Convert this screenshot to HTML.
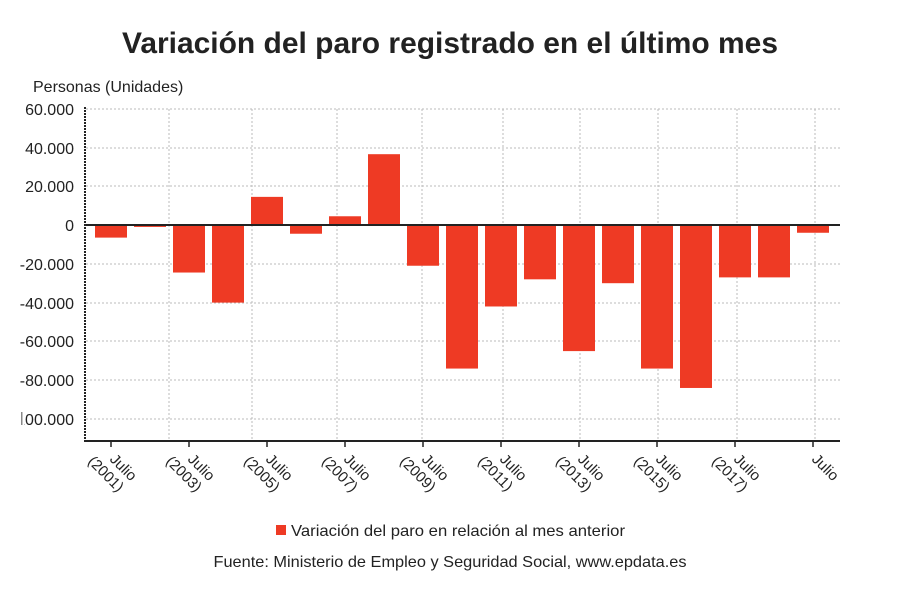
<!DOCTYPE html><html><head><meta charset="utf-8"><style>
body{margin:0;background:#fff;}
svg text{font-family:"Liberation Sans","DejaVu Sans",sans-serif;fill:#222;}
</style></head><body>
<svg width="900" height="607" xmlns="http://www.w3.org/2000/svg">
<text x="450" y="53" text-anchor="middle" font-size="30" font-weight="bold" fill="#111" textLength="656" lengthAdjust="spacingAndGlyphs">Variación del paro registrado en el último mes</text>
<text x="33" y="92" font-size="16" fill="#333">Personas (Unidades)</text>
<g stroke="#bbb" stroke-dasharray="2,2" stroke-width="1">
<line x1="86" x2="840" y1="109" y2="109"/><line x1="86" x2="840" y1="148" y2="148"/><line x1="86" x2="840" y1="186" y2="186"/>
<line x1="86" x2="840" y1="264" y2="264"/><line x1="86" x2="840" y1="303" y2="303"/><line x1="86" x2="840" y1="341" y2="341"/><line x1="86" x2="840" y1="380" y2="380"/><line x1="86" x2="840" y1="419" y2="419"/>
<line x1="169" x2="169" y1="109" y2="441"/><line x1="252" x2="252" y1="109" y2="441"/><line x1="337" x2="337" y1="109" y2="441"/><line x1="422" x2="422" y1="109" y2="441"/><line x1="503" x2="503" y1="109" y2="441"/><line x1="580" x2="580" y1="109" y2="441"/><line x1="658" x2="658" y1="109" y2="441"/><line x1="737" x2="737" y1="109" y2="441"/><line x1="815" x2="815" y1="109" y2="441"/>
</g>
<g font-size="16" text-anchor="end" fill="#333">
<text x="74" y="115">60.000</text><text x="74" y="154">40.000</text><text x="74" y="192">20.000</text><text x="74" y="231">0</text>
<text x="74" y="270">-20.000</text><text x="74" y="309">-40.000</text><text x="74" y="347">-60.000</text><text x="74" y="386">-80.000</text><text x="74" y="425">-100.000</text>
</g>
<rect x="0" y="405" width="24" height="25" fill="#fff"/>
<rect x="21" y="412" width="1.5" height="13" fill="#888"/>
<g fill="#ee3a24" id="bars"></g>
<line x1="85" x2="840" y1="225" y2="225" stroke="#222" stroke-width="2"/>
<line x1="85" x2="85" y1="107" y2="441" stroke="#222" stroke-width="2" stroke-dasharray="2,1"/>
<line x1="84" x2="840" y1="441" y2="441" stroke="#222" stroke-width="2"/>
<g id="ticks"></g>
<rect x="276" y="525" width="10" height="10" fill="#ee3a24"/>
<text x="291" y="536" font-size="16" fill="#222" textLength="334" lengthAdjust="spacingAndGlyphs">Variación del paro en relación al mes anterior</text>
<text x="450" y="567" text-anchor="middle" font-size="16" fill="#111" textLength="473" lengthAdjust="spacingAndGlyphs">Fuente: Ministerio de Empleo y Seguridad Social, www.epdata.es</text>
<script>
var v=[-6500,-1000,-24500,-40000,14500,-4500,4500,36500,-21000,-74000,-42000,-28000,-65000,-30000,-74000,-84000,-27000,-27000,-4000];
var b=document.getElementById('bars'),t=document.getElementById('ticks'),ns='http://www.w3.org/2000/svg';
v.forEach(function(d,i){var c=111+39*i,h=Math.abs(d)*0.00194;var r=document.createElementNS(ns,'rect');
r.setAttribute('x',c-16);r.setAttribute('width',32);r.setAttribute('y',d>0?225-h:225);r.setAttribute('height',h);b.appendChild(r);
if(i%2==0){var l=document.createElementNS(ns,'line');l.setAttribute('x1',c);l.setAttribute('x2',c);l.setAttribute('y1',441);l.setAttribute('y2',447);l.setAttribute('stroke','#222');l.setAttribute('stroke-width','1.5');t.appendChild(l);
var g=document.createElementNS(ns,'text');g.setAttribute('font-size','15');g.setAttribute('fill','#333');
g.setAttribute('transform','translate('+(c-2)+',460) rotate(45)');
var s1=document.createElementNS(ns,'tspan');s1.setAttribute('x',0);s1.setAttribute('y',0);s1.textContent='Julio';g.appendChild(s1);
if(i<18){var s2=document.createElementNS(ns,'tspan');s2.setAttribute('x',-14);s2.setAttribute('y',17);s2.textContent='('+(2001+i)+')';g.appendChild(s2);}
t.appendChild(g);}});
</script>
</svg></body></html>
